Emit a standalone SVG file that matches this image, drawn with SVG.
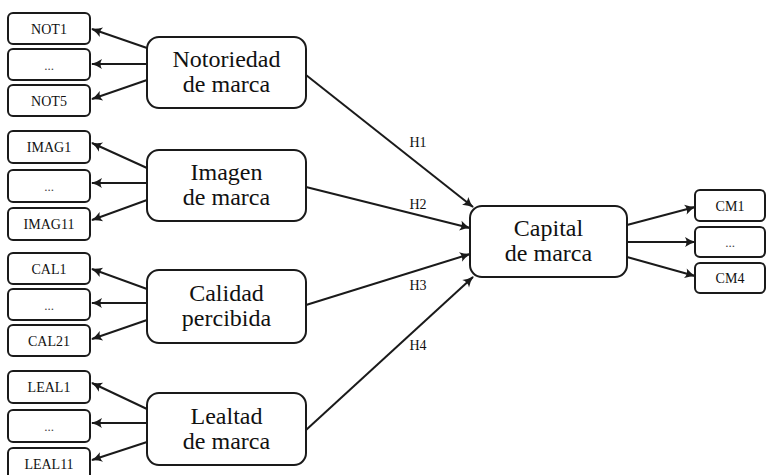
<svg xmlns="http://www.w3.org/2000/svg" width="770" height="475" viewBox="0 0 770 475">
<style>
.box{fill:#fff;stroke:#1a1a1a;stroke-width:2}
.big{font-family:'Liberation Serif','DejaVu Serif','Times New Roman',serif;font-size:24px;fill:#111;text-anchor:middle}
.sm{font-family:'Liberation Serif','DejaVu Serif','Times New Roman',serif;font-size:14px;fill:#111;text-anchor:middle}
.dots{font-family:'Liberation Serif','DejaVu Serif','Times New Roman',serif;font-size:13px;fill:#444;text-anchor:middle}
.ln{stroke:#1a1a1a;stroke-width:2;fill:none;marker-end:url(#ah)}
</style>
<defs>
<marker id="ah" markerUnits="userSpaceOnUse" markerWidth="14" markerHeight="12" refX="11" refY="6" orient="auto">
<path d="M1,1 Q6,4.5 12,6 Q6,7.5 1,11 Q4,6 1,1 Z" fill="#1a1a1a"/>
</marker>
</defs>
<g id="connectors">
<line class="ln" x1="147" y1="48" x2="92" y2="29"/>
<line class="ln" x1="147" y1="64" x2="92" y2="64"/>
<line class="ln" x1="147" y1="80" x2="92" y2="99"/>
<line class="ln" x1="147" y1="168" x2="92" y2="143"/>
<line class="ln" x1="147" y1="183" x2="92" y2="183"/>
<line class="ln" x1="147" y1="200" x2="92" y2="220"/>
<line class="ln" x1="147" y1="289" x2="92" y2="269"/>
<line class="ln" x1="147" y1="303" x2="92" y2="303"/>
<line class="ln" x1="147" y1="320" x2="92" y2="339"/>
<line class="ln" x1="147" y1="409" x2="92" y2="383"/>
<line class="ln" x1="147" y1="423" x2="92" y2="423"/>
<line class="ln" x1="147" y1="442" x2="92" y2="460"/>
<line class="ln" x1="306" y1="75" x2="473" y2="207"/>
<line class="ln" x1="306" y1="187" x2="470" y2="228"/>
<line class="ln" x1="306" y1="305" x2="470" y2="254"/>
<line class="ln" x1="306" y1="430" x2="473" y2="277"/>
<line class="ln" x1="627" y1="225" x2="695" y2="207"/>
<line class="ln" x1="627" y1="242" x2="695" y2="242"/>
<line class="ln" x1="627" y1="257" x2="695" y2="276"/>
<text class="sm" x="418" y="147">H1</text>
<text class="sm" x="418" y="209">H2</text>
<text class="sm" x="418" y="290">H3</text>
<text class="sm" x="418" y="350">H4</text>
</g>
<g id="not1"><rect class="box" x="8" y="13" width="82" height="31" rx="5"/><text class="sm" x="49" y="34">NOT1</text></g>
<g id="not-dots"><rect class="box" x="8" y="49" width="82" height="31" rx="5"/><text class="dots" x="49" y="70">...</text></g>
<g id="not5"><rect class="box" x="8" y="85" width="82" height="31" rx="5"/><text class="sm" x="49" y="106">NOT5</text></g>
<g id="imag1"><rect class="box" x="8" y="131" width="82" height="32" rx="5"/><text class="sm" x="49" y="152">IMAG1</text></g>
<g id="imag-dots"><rect class="box" x="8" y="170" width="82" height="32" rx="5"/><text class="dots" x="49" y="191">...</text></g>
<g id="imag11"><rect class="box" x="8" y="208" width="82" height="32" rx="5"/><text class="sm" x="49" y="229">IMAG11</text></g>
<g id="cal1"><rect class="box" x="8" y="253" width="82" height="31" rx="5"/><text class="sm" x="49" y="274">CAL1</text></g>
<g id="cal-dots"><rect class="box" x="8" y="289" width="82" height="31" rx="5"/><text class="dots" x="49" y="310">...</text></g>
<g id="cal21"><rect class="box" x="8" y="325" width="82" height="31" rx="5"/><text class="sm" x="49" y="346">CAL21</text></g>
<g id="leal1"><rect class="box" x="8" y="371" width="82" height="32" rx="5"/><text class="sm" x="49" y="392">LEAL1</text></g>
<g id="leal-dots"><rect class="box" x="8" y="410" width="82" height="32" rx="5"/><text class="dots" x="49" y="431">...</text></g>
<g id="leal11"><rect class="box" x="8" y="448" width="82" height="32" rx="5"/><text class="sm" x="49" y="469">LEAL11</text></g>
<g id="notoriedad"><rect class="box" x="147" y="37" width="159" height="71" rx="12"/><text class="big" x="226.5" y="67">Notoriedad</text><text class="big" x="226.5" y="92">de marca</text></g>
<g id="imagen"><rect class="box" x="147" y="150" width="159" height="71" rx="12"/><text class="big" x="226.5" y="180">Imagen</text><text class="big" x="226.5" y="205">de marca</text></g>
<g id="calidad"><rect class="box" x="147" y="270" width="159" height="73" rx="12"/><text class="big" x="226.5" y="301">Calidad</text><text class="big" x="226.5" y="326">percibida</text></g>
<g id="lealtad"><rect class="box" x="147" y="393" width="159" height="72" rx="12"/><text class="big" x="226.5" y="424">Lealtad</text><text class="big" x="226.5" y="449">de marca</text></g>
<g id="capital"><rect class="box" x="470" y="206" width="157" height="71" rx="12"/><text class="big" x="548.5" y="236">Capital</text><text class="big" x="548.5" y="261">de marca</text></g>
<g id="cm1"><rect class="box" x="695" y="190" width="70" height="31" rx="5"/><text class="sm" x="730" y="211">CM1</text></g>
<g id="cm-dots"><rect class="box" x="695" y="227" width="70" height="30" rx="5"/><text class="dots" x="730" y="247">...</text></g>
<g id="cm4"><rect class="box" x="695" y="263" width="70" height="30" rx="5"/><text class="sm" x="730" y="283">CM4</text></g>
</svg>
